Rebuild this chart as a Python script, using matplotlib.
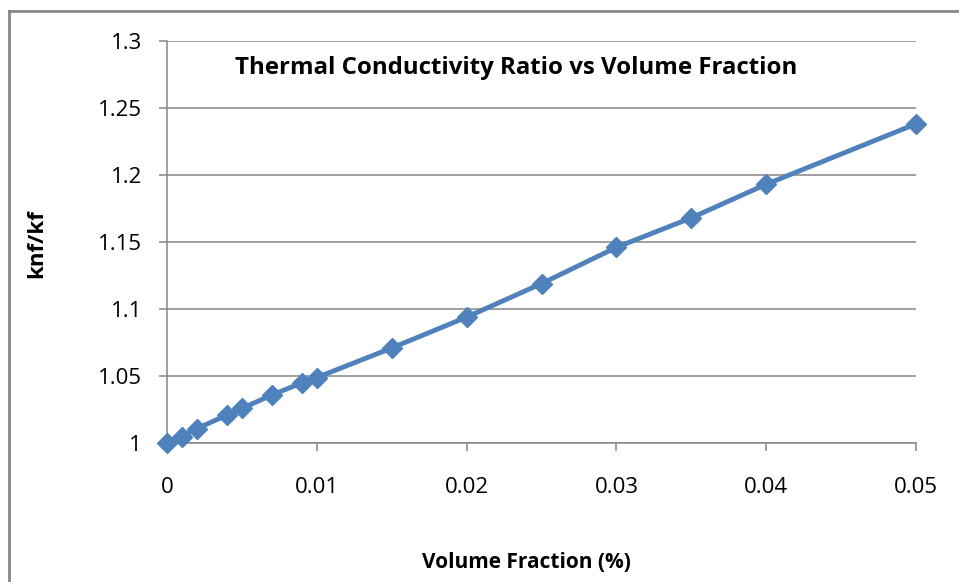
import matplotlib
matplotlib.use("Agg")
import matplotlib.pyplot as plt
from matplotlib.lines import Line2D

volume_fraction = [0, 0.001, 0.002, 0.004, 0.005, 0.007, 0.009, 0.01, 0.015, 0.02, 0.025, 0.03, 0.035, 0.04, 0.05]
knf_kf = [1.0, 1.005, 1.011, 1.021, 1.026, 1.036, 1.045, 1.049, 1.071, 1.094, 1.119, 1.146, 1.168, 1.193, 1.238]
x_ticks = [0, 0.01, 0.02, 0.03, 0.04, 0.05]
x_tick_labels = ["0", "0.01", "0.02", "0.03", "0.04", "0.05"]
y_ticks = [1, 1.05, 1.1, 1.15, 1.2, 1.25, 1.3]
y_tick_labels = ["1", "1.05", "1.1", "1.15", "1.2", "1.25", "1.3"]

plt.rcParams['font.family'] = ['Open Sans', 'DejaVu Sans']

W, H = 959, 582
fig = plt.figure(figsize=(W / 100, H / 100), dpi=100)
ax = fig.add_axes([167 / W, 1 - 443.3 / H, (916 - 167) / W, (443.3 - 40.7) / H])

grid_c = "#868686"
ax.set_xlim(0, 0.05)
ax.set_ylim(1, 1.3)
ax.set_yticks(y_ticks)
ax.set_yticklabels(y_tick_labels)
ax.set_xticks(x_ticks)
ax.set_xticklabels(x_tick_labels)
ax.grid(axis='y', color=grid_c, linewidth=1.1)
ax.set_axisbelow(True)
for s in ['top', 'right']:
    ax.spines[s].set_visible(False)
for s in ['left', 'bottom']:
    ax.spines[s].set_color(grid_c)
    ax.spines[s].set_linewidth(1.1)
ax.tick_params(axis='both', colors=grid_c, length=6, width=1.1, labelsize=16, labelcolor='black')
ax.tick_params(axis='y', pad=12)
ax.tick_params(axis='x', pad=18)

ax.plot(volume_fraction, knf_kf, color="#4F81BD", linewidth=3.5, marker='D',
        markersize=10.5, markerfacecolor="#4F81BD", markeredgecolor="#4F81BD", clip_on=False, zorder=3)

fig.text(516 / W, 1 - 68 / H, "Thermal Conductivity Ratio vs Volume Fraction", ha='center', va='center',
         fontsize=17.3, fontweight='bold')
fig.text(37 / W, 1 - 244 / H, "knf/kf", ha='center', va='center', rotation=90, fontsize=16, fontweight='bold')
fig.text(526 / W, 1 - 562 / H, "Volume Fraction (%)", ha='center', va='center', fontsize=15, fontweight='bold')

# outer chart border
fig.add_artist(Line2D([8.5 / W, 8.5 / W], [0, 1 - 11 / H], color="#888888", linewidth=2, transform=fig.transFigure))
fig.add_artist(Line2D([8.5 / W, 1], [1 - 11 / H, 1 - 11 / H], color="#888888", linewidth=2, transform=fig.transFigure))

fig.savefig("out.png", dpi=100)
